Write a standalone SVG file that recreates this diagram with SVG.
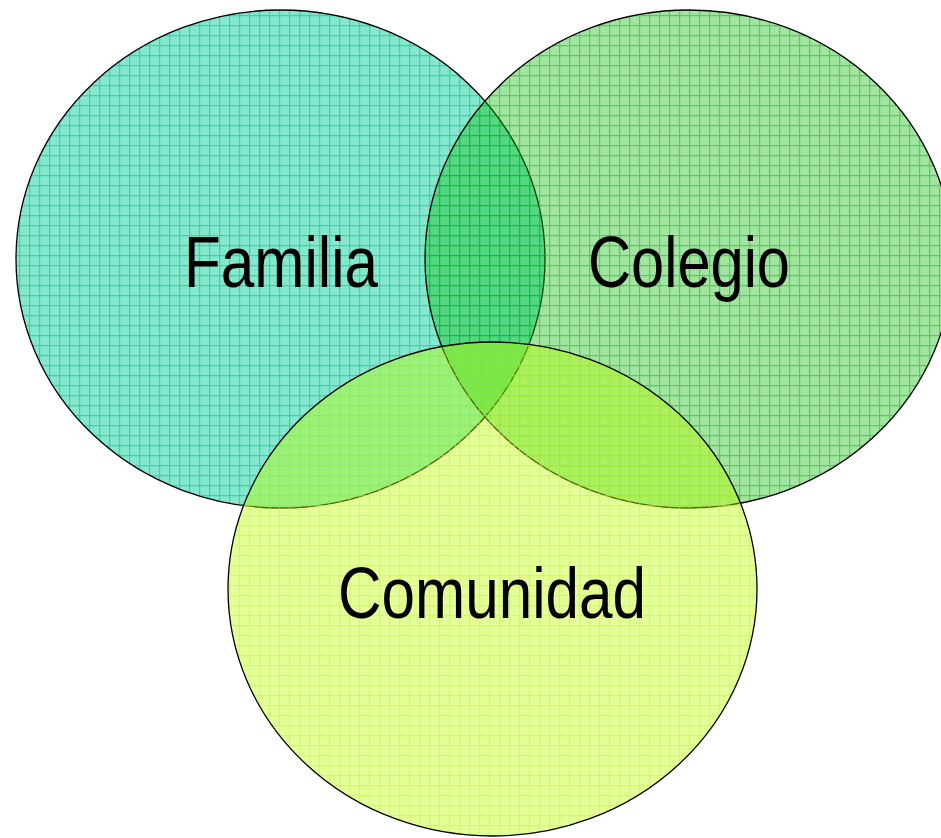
<svg xmlns="http://www.w3.org/2000/svg" width="941" height="838" viewBox="0 0 941 838">
<style>
.c{stroke:#000;stroke-width:1.3}
.t{font-family:"Liberation Sans Narrow","Liberation Sans",Arial,sans-serif;font-size:72px;fill:#000;text-anchor:middle}
.gl{fill:none;stroke-width:1.4}
</style>
<defs>
<pattern id="pf" width="10" height="10" patternUnits="userSpaceOnUse" x="9" y="5">
<rect width="10" height="10" fill="#00cc99" fill-opacity="0.48"/>
<path class="gl" d="M0 0.5H10M0.5 0V10" stroke="#00cc99" stroke-opacity="0.62"/>
</pattern>
<pattern id="pc" width="10" height="10" patternUnits="userSpaceOnUse" x="9" y="5">
<rect width="10" height="10" fill="#00b800" fill-opacity="0.37"/>
<path class="gl" d="M0 0.5H10M0.5 0V10" stroke="#00b800" stroke-opacity="0.48"/>
</pattern>
<pattern id="pm" width="10" height="10" patternUnits="userSpaceOnUse" x="9" y="5">
<rect width="10" height="10" fill="#bbff00" fill-opacity="0.4"/>
<path class="gl" d="M0 0.5H10M0.5 0V10" stroke="#bbff00" stroke-opacity="0.52"/>
</pattern>
</defs>
<g id="familia">
<ellipse class="c" cx="280.5" cy="259" rx="264.5" ry="249" fill="url(#pf)"/>
<text class="t" x="281" y="287" textLength="194" lengthAdjust="spacingAndGlyphs">Familia</text>
</g>
<g id="colegio">
<ellipse class="c" cx="689" cy="259" rx="264" ry="249" fill="url(#pc)"/>
<text class="t" x="689" y="287" textLength="202" lengthAdjust="spacingAndGlyphs">Colegio</text>
</g>
<g id="comunidad">
<ellipse class="c" cx="492.5" cy="589" rx="264.5" ry="247" fill="url(#pm)"/>
<text class="t" x="492" y="618" textLength="308" lengthAdjust="spacingAndGlyphs">Comunidad</text>
</g>
<g id="connectors"/>
</svg>
